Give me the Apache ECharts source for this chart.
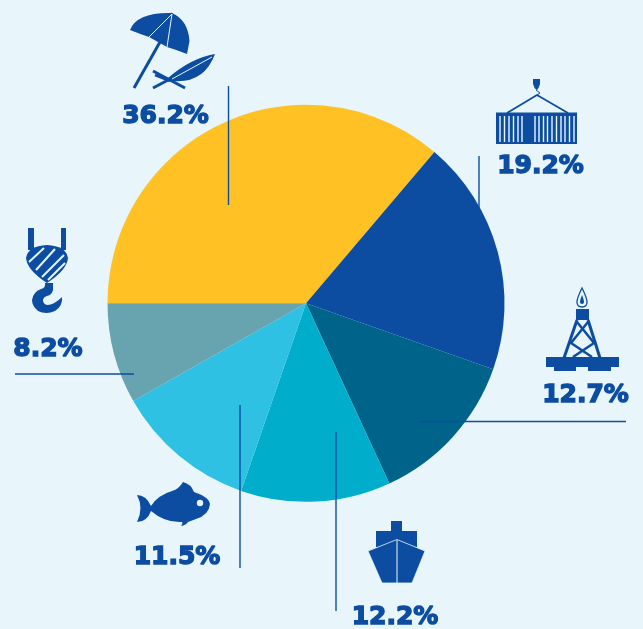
<!DOCTYPE html>
<html>
<head>
<meta charset="utf-8">
<style>
	html, body { margin: 0; padding: 0; background: #e8f6fb; }
	#chart { width: 643px; height: 629px; }
</style>
<script src="https://cdn.jsdelivr.net/npm/echarts@6/dist/echarts.min.js"></script>
</head>
<body>
<div id="chart"></div>
<script>
const categories = ["Tourism", "Containers", "Oil and gas", "Ships", "Fishing", "Cargo handling"];
const shares = [36.2, 19.2, 12.7, 12.2, 11.5, 8.2];
const sliceColors = ["#ffc124", "#0c4da2", "#00638a", "#00aecb", "#2fc1e3", "#68a3b0"];

const ink = "#0c4da2";
const paper = "#e8f6fb";

/* 圖示路徑 */
const iconPaths = {
	canopy: "M130,30 Q137,12 172,13 Q188,20 189.5,41 L187,54 Q177,50 167,47 Q158,42 149,37 Q140,34 130,30 Z",
	lounger: "M215,54 Q191,58 168,78 Q165,81 172,81 Q204,84 215,54 Z",
	cargoHook: "M533,79 L540,79 L540,84 Q538,90 536.5,90 Q534,88 533,84 Z",
	flame: "M582,288 Q577,298 577,302 Q577,307 582,307 Q587,307 587,302 Q587,298 582,288 Z",
	drop: "M582,295 Q580,300 580,302 Q580,304 582,304 Q584,304 584,302 Q584,300 582,295 Z",
	block: "M26,258 Q28,246 47,245 Q66,246 68,258 Q67,270 47,283 Q27,270 26,258 Z",
	hook: "M45,283 L53,283 L53,290 Q52,295 47,296 Q43,297 43,301 Q44,305 48,305 Q55,304 62,297 Q63,306 55,311 Q46,315 38,311 Q32,306 32,300 Q33,292 41,289 Q46,288 45,283 Z",
	fish: "M137,495 Q146,495 151,506 Q158,495 172,491 Q179,489 183,482 Q191,484 194,492 Q209,497 210,504 Q209,515 196,519 L188,522 Q186,525 181,526 Q183,523 182,522 Q165,523 151,511 Q147,522 137,522 Q144,508 137,495 Z",
	hull: "M368,551 L397,539.5 L425,551 L412,583 L382,583 Z"
};
Object.keys(iconPaths).forEach((name) => {
	echarts.graphic.registerShape(name, echarts.graphic.extendPath(iconPaths[name]));
});

const chartDom = document.querySelector("#chart");
const chart = echarts.init(chartDom, null, { renderer: "canvas" });

const filled = (type, color) => ({ type, z: 10, style: { fill: color || ink } });
const rect = (x, y, width, height, color) => ({
	type: "rect",
	z: 10,
	shape: { x, y, width, height },
	style: { fill: color || ink }
});
const line = (x1, y1, x2, y2, color, width) => ({
	type: "line",
	z: 10,
	shape: { x1, y1, x2, y2 },
	style: { stroke: color || ink, lineWidth: width || 1.4 }
});
const broken = (points, width) => ({
	type: "polyline",
	z: 10,
	shape: { points },
	style: { stroke: ink, fill: "none", lineWidth: width }
});

/* 引線 */
const leaderLines = [
	line(228.5, 86, 228.5, 205),
	line(479, 156, 479, 208),
	line(420, 421.5, 626, 421.5),
	line(15, 374, 134, 374),
	line(240, 405, 240, 568),
	line(336, 432, 336, 611)
];

/* 百分比文字 */
const labelSpots = [[165.5, 116], [540.5, 166], [585.5, 395], [395, 617], [177, 557], [48, 349]];
const percentLabels = shares.map((value, i) => ({
	type: "text",
	z: 11,
	x: labelSpots[i][0],
	y: labelSpots[i][1],
	style: {
		text: value.toFixed(1) + "%",
		fill: ink,
		stroke: ink,
		lineWidth: 1.4,
		font: "bold 25px 'DejaVu Sans'",
		textAlign: "center",
		textVerticalAlign: "middle"
	}
}));

const containerStripes = [];
[500, 504.5, 509, 513.5, 518, 522, 535, 539, 543.5, 547.5, 552, 556.5, 561, 565, 569.5, 574].forEach((x) => {
	containerStripes.push(rect(x - 0.7, 116, 1.4, 26, paper));
});

const icons = [
	/* 遮陽傘 */
	line(160, 42, 134, 88, ink, 3),
	line(172, 13, 160, 42, ink, 2),
	filled("canopy"),
	line(172, 14, 149, 37, paper, 1),
	line(172, 14, 167, 47, paper, 1),
	filled("lounger"),
	line(212, 57, 172, 79, paper, 1),
	line(153, 71, 185, 88, ink, 3),
	line(153, 88, 170, 79, ink, 3),
	line(155, 75, 170, 81, ink, 2.5),
	/* 貨櫃 */
	filled("cargoHook"),
	broken([[507, 113], [537, 95], [568, 113]], 1.8),
	broken([[536, 90], [540, 93], [537, 95]], 1),
	rect(496, 112.5, 81, 31.5),
	...containerStripes,
	/* 鑽油台 */
	{ type: "flame", z: 10, style: { fill: paper, stroke: ink, lineWidth: 1.3 } },
	filled("drop"),
	rect(576, 309, 13, 11),
	broken([[577, 320], [564, 358]], 3),
	broken([[588, 320], [600, 358]], 3),
	broken([[577, 322], [594, 343], [573, 357]], 2.5),
	broken([[588, 322], [571, 343], [592, 357]], 2.5),
	rect(546, 357, 73, 10),
	rect(554, 367, 22, 4),
	rect(588, 367, 23, 4),
	/* 吊鉤 */
	rect(28, 228, 6, 22),
	rect(61, 228, 5, 22),
	filled("block"),
	line(29, 262, 44, 248, paper, 2),
	line(36, 270, 55, 249, paper, 2),
	line(42, 277, 64, 255, paper, 2),
	line(48, 280, 65, 263, paper, 2),
	filled("hook"),
	/* 魚 */
	filled("fish"),
	{ type: "circle", z: 11, shape: { cx: 200, cy: 503, r: 3.2 }, style: { fill: paper } },
	/* 船 */
	rect(391, 521, 11, 10),
	rect(376, 531, 41, 16),
	{ type: "hull", z: 10, style: { fill: ink, stroke: paper, lineWidth: 0.8 } },
	line(397, 540, 397, 583, paper, 1)
];

chart.setOption({
	backgroundColor: paper,
	animation: false,
	graphic: { elements: [...leaderLines, ...percentLabels, ...icons] },
	series: [
		{
			type: "pie",
			center: [306, 303.3],
			radius: 198.5,
			startAngle: 180,
			silent: true,
			label: { show: false },
			labelLine: { show: false },
			data: categories.map((name, i) => ({
				name,
				value: shares[i],
				itemStyle: { color: sliceColors[i] }
			}))
		}
	]
});
</script>
</body>
</html>
